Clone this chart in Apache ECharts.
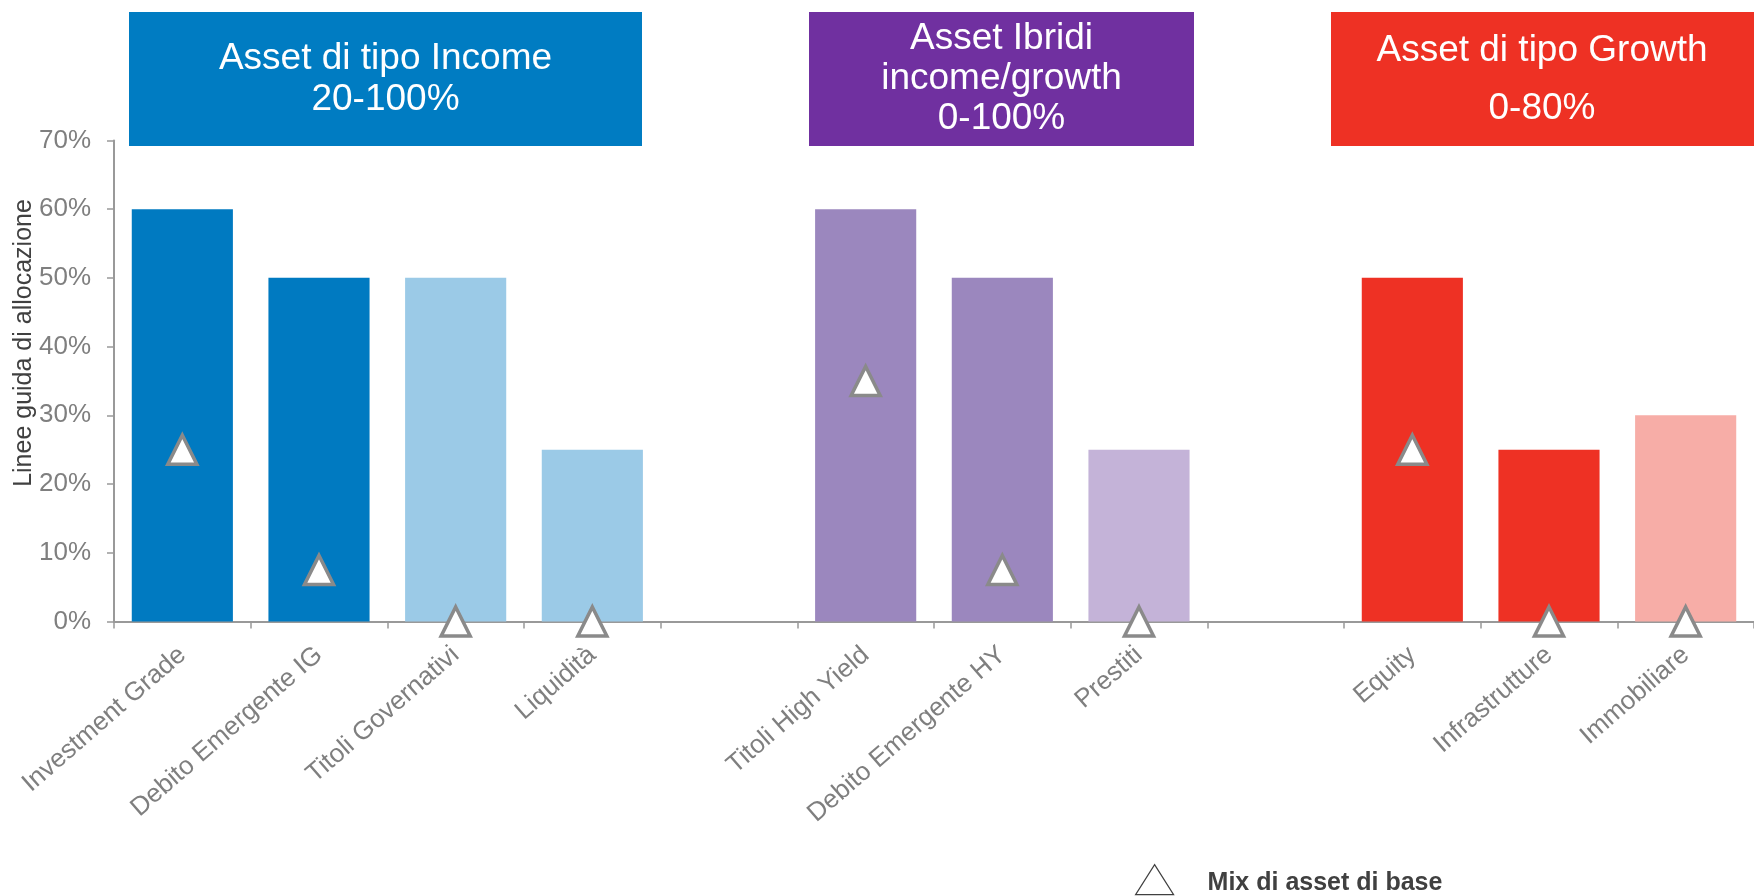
<!DOCTYPE html>
<html>
<head>
<meta charset="utf-8">
<script src="https://cdn.jsdelivr.net/npm/echarts@6/dist/echarts.min.js"></script>
<style>
  html, body { margin: 0; padding: 0; background: #fff; }
  #main { width: 1754px; height: 896px; }
</style>
</head>
<body>
<div id="main"></div>
<script>
var categories = ['Investment Grade', 'Debito Emergente IG', 'Titoli Governativi', 'Liquidità', '',
    'Titoli High Yield', 'Debito Emergente HY', 'Prestiti', '',
    'Equity', 'Infrastrutture', 'Immobiliare'];
// linee guida di allocazione (%)
var limits = [60, 50, 50, 25, null, 60, 50, 25, null, 50, 25, 30];
// mix di asset di base (%)
var baseMix = [25, 7.5, 0, 0, null, 35, 7.5, 0, null, 25, 0, 0];
var yTicks = [0, 10, 20, 30, 40, 50, 60, 70];

var barColors = ['#007AC1', '#007AC1', '#9BCAE7', '#9BCAE7', null,
    '#9B87BE', '#9B87BE', '#C4B3D8', null, '#EE3124', '#EE3124', '#F7ADA7'];

var headers = [
    { text: 'Asset di tipo Income\n20-100%', color: '#007CC2', x: 129, w: 513, lh: 41, ty: 79 },
    { text: 'Asset Ibridi\nincome/growth\n0-100%', color: '#7030A0', x: 809, w: 385, lh: 40, ty: 79 },
    { text: 'Asset di tipo Growth\n0-80%', color: '#EE3124', x: 1331, w: 430, lh: 58, ty: 80 }
];

var font = "'Liberation Sans', Arial, sans-serif";
var chartDom = document.getElementById('main');
var myChart = echarts.init(chartDom);

var barData = limits.map(function (v, i) {
    if (v === null) return '-';
    return { value: v, itemStyle: { color: barColors[i] } };
});
var mixData = baseMix.map(function (v) { return v === null ? '-' : v; });

var graphics = [];
headers.forEach(function (h, i) {
    graphics.push({
        type: 'rect',
        shape: { x: h.x, y: 12, width: h.w, height: 134 },
        style: { fill: h.color },
        z: 10
    });
    graphics.push({
        type: 'text',
        x: (i === 2 ? 1542 : h.x + h.w / 2),
        y: h.ty,
        style: {
            text: h.text,
            fill: '#fff',
            font: '37px ' + font,
            align: 'center',
            verticalAlign: 'middle',
            lineHeight: h.lh
        },
        z: 11
    });
});
graphics.push({
    type: 'text',
    x: 24,
    y: 343,
    rotation: Math.PI / 2,
    style: {
        text: 'Linee guida di allocazione',
        fill: '#404040',
        font: '25px ' + font,
        align: 'center',
        verticalAlign: 'middle'
    }
});

var option = {
    animation: false,
    backgroundColor: '#fff',
    textStyle: { fontFamily: font },
    grid: { left: 114, top: 140.4, width: 1651, height: 481.1, containLabel: false },
    legend: {
        data: ['Mix di asset di base'],
        left: 1135,
        top: 864,
        padding: 0,
        icon: 'triangle',
        itemWidth: 38,
        itemHeight: 30,
        itemStyle: { color: '#fff', borderColor: '#404040', borderWidth: 1.2 },
        formatter: '{t|{name}}',
        textStyle: {
            fontSize: 25, fontWeight: 'bold', color: '#404040', fontFamily: font,
            rich: {
                t: { fontSize: 25, fontWeight: 'bold', color: '#404040', fontFamily: font, padding: [8, 0, 0, 29] }
            }
        }
    },
    xAxis: {
        type: 'category',
        data: categories,
        axisLine: { lineStyle: { color: '#999', width: 2 } },
        axisTick: { show: true, length: 7, lineStyle: { color: '#999', width: 1.5 } },
        axisLabel: {
            interval: 0,
            rotate: 41,
            margin: 30,
            fontSize: 26,
            color: '#7f7f7f',
            fontFamily: font
        }
    },
    yAxis: {
        type: 'value',
        min: yTicks[0],
        max: yTicks[yTicks.length - 1],
        interval: 10,
        splitLine: { show: false },
        axisLine: { show: true, lineStyle: { color: '#999', width: 2 } },
        axisTick: { show: true, length: 7, lineStyle: { color: '#999', width: 1.5 } },
        axisLabel: {
            formatter: '{value}%',
            margin: 23,
            fontSize: 26,
            color: '#7f7f7f',
            fontFamily: font
        }
    },
    graphic: graphics,
    series: [
        {
            name: 'Linee guida',
            type: 'bar',
            barWidth: '74%',
            data: barData
        },
        {
            name: 'Mix di asset di base',
            type: 'scatter',
            symbol: 'triangle',
            symbolSize: 29,
            itemStyle: { color: '#fff', borderColor: '#8a8a8a', borderWidth: 3.5, opacity: 1 },
            z: 5,
            data: mixData
        }
    ]
};

myChart.setOption(option);
</script>
</body>
</html>
